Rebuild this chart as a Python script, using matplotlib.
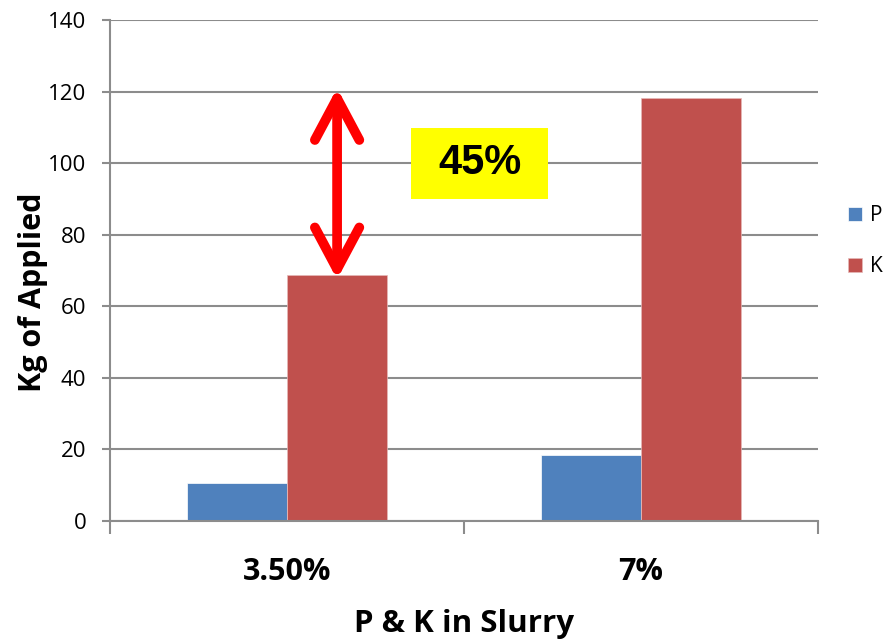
import matplotlib.pyplot as plt
from matplotlib.patches import Rectangle
import numpy as np

categories = ["3.50%", "7%"]
p_values = [10.7, 18.4]
k_values = [68.7, 118.2]
series_names = ["P", "K"]
y_ticks = [0, 20, 40, 60, 80, 100, 120, 140]
change_label = "45%"
arrow_span = (67.5, 121.0)

blue = "#4F81BD"
red = "#C0504D"
grid_gray = "#8C8C8C"

fig = plt.figure(figsize=(8.95, 6.43), dpi=100)
ax = fig.add_axes([0.1229, 0.1897, 0.7911, 0.7792])

x = np.arange(len(categories))
width = 0.283
ax.bar(x - width / 2, p_values, width, color=blue, edgecolor="white",
       linewidth=0.5, label=series_names[0], zorder=2)
ax.bar(x + width / 2, k_values, width, color=red, edgecolor="#E6B9B8",
       linewidth=0.5, label=series_names[1], zorder=2)

ax.set_xlim(-0.5, len(categories) - 0.5)
ax.set_ylim(0, 140)
ax.set_yticks(y_ticks)
ax.yaxis.grid(True, color=grid_gray, linewidth=1.5, zorder=0)
ax.set_axisbelow(True)

for s in ["top", "right"]:
    ax.spines[s].set_visible(False)
for s in ["left", "bottom"]:
    ax.spines[s].set_color(grid_gray)
    ax.spines[s].set_linewidth(1.5)

# category labels in the middle, tick marks at the boundaries
ax.set_xticks(np.arange(-0.5, len(categories), 1.0))
ax.set_xticklabels([])
ax.set_xticks(x, minor=True)
ax.set_xticklabels(categories, minor=True, fontfamily="Open Sans",
                   fontweight="bold", fontsize=22)
ax.tick_params(axis="x", which="major", length=9, width=1.5, color=grid_gray)
ax.tick_params(axis="x", which="minor", length=0, pad=26)
ax.tick_params(axis="y", length=6, width=1.5, color=grid_gray, pad=11,
               labelsize=16)
for lab in ax.get_yticklabels():
    lab.set_fontfamily("Open Sans")

ax.set_ylabel("Kg of Applied", fontfamily="Open Sans", fontweight="bold",
              fontsize=22)
ax.yaxis.set_label_coords(-0.088, 0.457)
ax.set_xlabel("P & K in Slurry", fontfamily="Open Sans", fontweight="bold",
              fontsize=22.5, labelpad=16)

# double arrow between the two K bars' heights
ax.annotate("", xy=(x[0] + width / 2, arrow_span[1]),
            xytext=(x[0] + width / 2, arrow_span[0]),
            arrowprops=dict(arrowstyle="<->,head_length=3.0,head_width=1.6",
                            color="red", lw=7, capstyle="round",
                            joinstyle="round", shrinkA=0, shrinkB=0),
            zorder=4)

# yellow label box
bx, by, bw, bh = 0.544, 100, 0.387, 19.8
ax.add_patch(Rectangle((bx - bw / 2, by - bh / 2), bw, bh,
                       facecolor="yellow", edgecolor="none", zorder=3))
ax.text(bx, by, change_label, ha="center", va="center",
        fontfamily="Liberation Sans", fontweight="bold", fontsize=30,
        zorder=4)

leg = ax.legend(loc="center left", frameon=False, handlelength=0.65,
                handleheight=0.65, handletextpad=0.4, labelspacing=1.45,
                prop={"family": "Open Sans", "size": 15})
leg.set_bbox_to_anchor((0.927, 0.625), transform=fig.transFigure)

fig.savefig("out.png", dpi=100)
